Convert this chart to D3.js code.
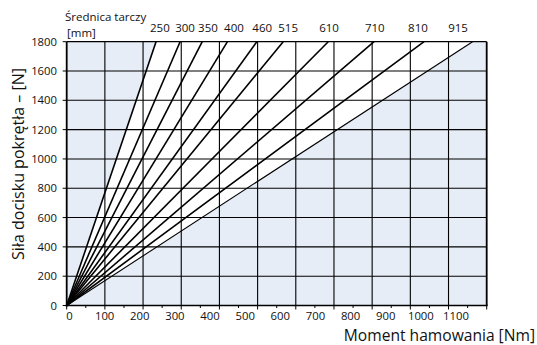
<!DOCTYPE html>
<html><head><meta charset="utf-8">
<script src="https://cdn.jsdelivr.net/npm/d3@7/dist/d3.min.js"></script>
<style>
html,body{margin:0;padding:0;background:#fff;}
svg{display:block;font-family:"Open Sans","Noto Sans",sans-serif;}
</style></head>
<body><svg id="c" width="537" height="345"></svg>
<script>
// Data
const diameters = ["250","300","350","400","460","515","610","710","810","915"]; // disc diameter [mm]
const momentAt1800 = [234, 297, 355, 421, 498, 567, 685, 805, 936, 1063];       // braking moment [Nm] at 1800 N
const labelMoment = [244, 310, 370, 438, 512, 580, 687, 807, 920, 1025];        // where each diameter label sits (Nm)
const forceMax = 1800;
const xTicks = [0,100,200,300,400,500,600,700,800,900,1000,1100];
const xMinorTicks = [50,150,250,350,450,550,650,750,850,950,1050];
const yTicks = [0,200,400,600,800,1000,1200,1400,1600,1800];

const svg = d3.select("#c");
const L = 66.7, R = 486.7, T = 41.7, B = 305.5;
const x = d3.scaleLinear().domain([0,1100]).range([L,R]);
const y = d3.scaleLinear().domain([0,1800]).range([B,T]);
// tick labels in the original drift slightly from gridlines
const xLab = d3.scaleLinear().domain([0,1100]).range([69.5,456]);

// background
svg.append("rect").attr("x",L).attr("y",T).attr("width",R-L).attr("height",B-T).attr("fill","#e6edf7");
// white fan region
const first = momentAt1800[0], last = momentAt1800[momentAt1800.length-1];
svg.append("path")
  .attr("d", d3.line()([[x(0),y(0)],[x(first),y(forceMax)],[x(last),y(forceMax)]]) + "Z")
  .attr("fill","#fff");

// gridlines
const grid = svg.append("g").attr("stroke","#000").attr("stroke-width",1.1);
xTicks.slice(1,-1).forEach(v=>grid.append("line").attr("x1",x(v)).attr("x2",x(v)).attr("y1",T).attr("y2",B));
yTicks.slice(1,-1).forEach(v=>grid.append("line").attr("x1",L).attr("x2",R).attr("y1",y(v)).attr("y2",y(v)));

// fan lines
const lines = svg.append("g").attr("fill","none").attr("stroke","#000");
momentAt1800.forEach((m,i)=>{
  lines.append("line").attr("x1",x(0)).attr("y1",y(0)).attr("x2",x(m)).attr("y2",y(forceMax))
    .attr("stroke-width", i===momentAt1800.length-1 ? 1.1 : 1.6);
});

// frame
svg.append("line").attr("x1",L).attr("x2",R).attr("y1",T).attr("y2",T).attr("stroke","#000").attr("stroke-width",1.3);
svg.append("line").attr("x1",R).attr("x2",R).attr("y1",T).attr("y2",B).attr("stroke","#000").attr("stroke-width",1.8);
svg.append("line").attr("x1",L).attr("x2",L).attr("y1",T).attr("y2",B+1).attr("stroke","#000").attr("stroke-width",1.8);
svg.append("line").attr("x1",L-1).attr("x2",R+1).attr("y1",B).attr("y2",B).attr("stroke","#000").attr("stroke-width",1.6);

// ticks
const tk = svg.append("g").attr("stroke","#000").attr("stroke-width",1);
xTicks.forEach(v=>tk.append("line").attr("x1",x(v)).attr("x2",x(v)).attr("y1",B).attr("y2",B+4));
xMinorTicks.forEach(v=>tk.append("line").attr("x1",x(v)).attr("x2",x(v)).attr("y1",B).attr("y2",B+2.5));
yTicks.forEach(v=>tk.append("line").attr("x1",L-4).attr("x2",L).attr("y1",y(v)).attr("y2",y(v)));

// tick labels
const tl = svg.append("g").attr("font-size",11.3).attr("fill","#111");
xTicks.forEach(v=>tl.append("text").attr("x",xLab(v)).attr("y",320).attr("text-anchor","middle").text(v));
yTicks.forEach(v=>tl.append("text").attr("x",57).attr("y",y(v)+4).attr("text-anchor","end").text(v));

// diameter labels
const dl = svg.append("g").attr("font-size",11.5).attr("fill","#111");
diameters.forEach((d,i)=>dl.append("text").attr("x",x(labelMoment[i])).attr("y",31.5).attr("text-anchor","middle").text(d));
dl.append("text").attr("x",65).attr("y",20.5).text("Średnica tarczy");
dl.append("text").attr("x",67).attr("y",36.5).text("[mm]");

// axis titles
svg.append("text").attr("x",535).attr("y",340.5).attr("text-anchor","end").attr("font-size",15.6).attr("fill","#111")
  .text("Moment hamowania [Nm]");
svg.append("text").attr("transform","translate(24,164) rotate(-90)").attr("text-anchor","middle")
  .attr("font-size",16).attr("fill","#111").text("Siła docisku pokrętła – [N]");
</script></body></html>
